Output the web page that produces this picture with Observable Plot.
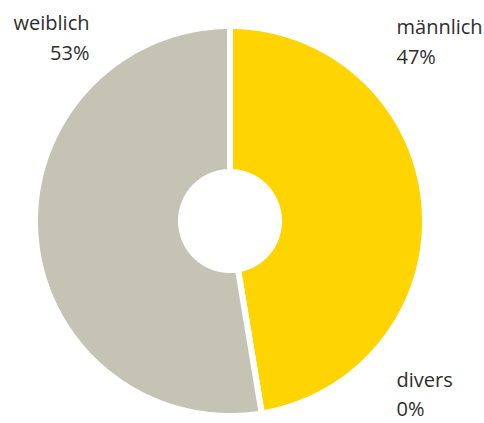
<!DOCTYPE html>
<html>
<head>
<meta charset="utf-8">
<script src="https://cdn.jsdelivr.net/npm/d3@7"></script>
<script src="https://cdn.jsdelivr.net/npm/@observablehq/plot@0.6"></script>
<style>
  html, body { margin: 0; padding: 0; background: #fff; }
  #chart svg { display: block; }
</style>
</head>
<body>
<div id="chart"></div>
<script>
// ---- data ----
const categories = ["männlich", "divers", "weiblich"];
const shares = [47.4, 0, 52.6];
const shareLabels = ["47%", "0%", "53%"];

// ---- style / layout ----
const colors = {"männlich": "#FFD400", "divers": "#8A8979", "weiblich": "#C5C4B4"};
const W = 484, H = 423;
const cx = 229.5, cy = 220.5, Router = 195, Rinner = 49;
const labelPos = {
  "männlich": {dx: 396, dy: 13, anchor: "start"},
  "divers":   {dx: 396, dy: 365.5, anchor: "start"},
  "weiblich": {dx: 89,  dy: 9, anchor: "end"}
};

const rows = categories.map((c, i) => ({category: c, value: shares[i], label: shareLabels[i]}));
const arcs = d3.pie().sort(null).value(d => d.value)(rows);

function slicePolygon(a) {
  const ring = [];
  const n = Math.max(2, Math.ceil((a.endAngle - a.startAngle) / (Math.PI / 360)));
  for (let k = 0; k <= n; k++) {
    const t = a.startAngle + (a.endAngle - a.startAngle) * k / n;
    ring.push([Math.sin(t), Math.cos(t)]);
  }
  const r = Rinner / Router;
  for (let k = n; k >= 0; k--) {
    const t = a.startAngle + (a.endAngle - a.startAngle) * k / n;
    ring.push([r * Math.sin(t), r * Math.cos(t)]);
  }
  ring.push(ring[0]);
  return {type: "Feature", properties: {category: a.data.category}, geometry: {type: "Polygon", coordinates: [ring]}};
}
const features = arcs.map(slicePolygon);

const projection = d3.geoIdentity().reflectY(true).scale(Router).translate([cx, cy]);

const labelMarks = rows.map(d => Plot.text([d], {
  text: d => d.category + "\n" + d.label,
  frameAnchor: "top-left",
  dx: labelPos[d.category].dx,
  dy: labelPos[d.category].dy,
  textAnchor: labelPos[d.category].anchor,
  lineAnchor: "top",
  lineHeight: 1.47,
  fontSize: 20,
  fill: "#2e2e2e"
}));

const chart = Plot.plot({
  width: W,
  height: H,
  margin: 0,
  projection,
  style: {fontFamily: "'Open Sans', sans-serif", background: "#fff"},
  marks: [
    Plot.geo(features, {
      fill: d => colors[d.properties.category],
      stroke: "#fff",
      strokeWidth: 6,
      strokeLinejoin: "round"
    }),
    ...labelMarks
  ]
});
document.getElementById("chart").appendChild(chart);
</script>
</body>
</html>
